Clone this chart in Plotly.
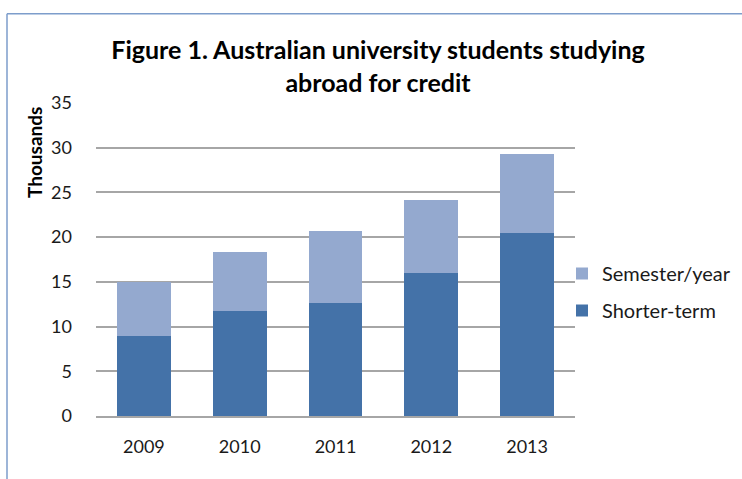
import plotly.graph_objects as go

years = ["2009", "2010", "2011", "2012", "2013"]
shorter_term = [9.0, 11.7, 12.6, 16.0, 20.5]
semester_year = [6.0, 6.6, 8.1, 8.2, 8.8]
y_ticks = [0, 5, 10, 15, 20, 25, 30, 35]

W, H = 742, 479
L, R, T, B = 96, 167, 103, 63
pw, ph = W - L - R, H - T - B

def px_x(p):
    return (p - L) / pw

def px_y(p):
    return (H - B - p) / ph

FONT = "Lato, Carlito, Calibri, 'Open Sans', sans-serif"

fig = go.Figure()
fig.add_trace(go.Bar(x=years, y=shorter_term, name="Shorter-term",
                     marker=dict(color="#4472a8", line=dict(width=0)),
                     legendgroup="short", legendrank=2))
fig.add_trace(go.Bar(x=years, y=semester_year, name="Semester/year",
                     marker=dict(color="#94a9cf", line=dict(width=0)),
                     legendgroup="sem", legendrank=1))

fig.update_layout(
    width=W, height=H, autosize=False,
    margin=dict(l=L, r=R, t=T, b=B, autoexpand=False),
    paper_bgcolor="white", plot_bgcolor="white",
    barmode="stack", bargap=0.437,
    font=dict(family=FONT, size=18, color="#1a1a1a"),
    title=dict(text="<b>Figure 1. Australian university students studying<br>abroad for credit</b>",
               x=378 / W, xref="container", xanchor="center",
               y=1 - 59 / H, yref="container", yanchor="middle",
               font=dict(family=FONT, size=25, color="#000000")),
    legend=dict(traceorder="grouped", tracegroupgap=8,
                x=px_x(562), xanchor="left", y=px_y(292), yanchor="middle",
                font=dict(family=FONT, size=20, color="#1a1a1a"),
                bgcolor="rgba(0,0,0,0)", itemclick=False),
    xaxis=dict(showgrid=False, showline=True, linecolor="#a6a6a6", linewidth=1.5,
               ticks="", tickfont=dict(size=18), ticklabelstandoff=14),
    yaxis=dict(range=[0, 35], tickvals=y_ticks, showgrid=True, gridcolor="#a6a6a6",
               gridwidth=1.5, zeroline=False, showline=False, ticks="",
               tickfont=dict(size=18), ticklabelstandoff=23),
    annotations=[dict(text="<b>Thousands</b>", textangle=-90, showarrow=False,
                      xref="paper", yref="paper", x=px_x(34), y=px_y(153),
                      xanchor="center", yanchor="middle",
                      font=dict(family=FONT, size=19, color="#000000"))],
    shapes=[
        dict(type="line", xref="paper", yref="paper", x0=px_x(7), x1=px_x(7),
             y0=px_y(13.7), y1=px_y(490), line=dict(color="#7d9dcb", width=1.5)),
        dict(type="line", xref="paper", yref="paper", x0=px_x(7), x1=px_x(760),
             y0=px_y(13.7), y1=px_y(13.7), line=dict(color="#7d9dcb", width=1.5)),
    ],
)

fig.write_html("out.html", config={"displayModeBar": False},
               post_script="document.body.style.margin='0';document.body.style.overflow='hidden';")
